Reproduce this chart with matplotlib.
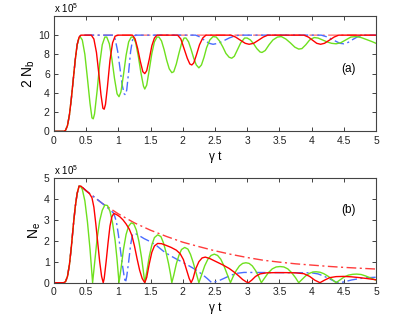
import matplotlib
matplotlib.use("Agg")
import matplotlib.pyplot as plt

plt.rcParams['font.family'] = ['Liberation Sans', 'DejaVu Sans']

# ---------------- panel (a): 2 N_b (units of 1e5) ----------------
rise_t = [0, 0.15, 0.18, 0.21, 0.24, 0.27, 0.30, 0.33, 0.36, 0.39]
rise_a = [0, 0, 0.1, 0.6, 1.7, 3.4, 5.4, 7.4, 9.0, 9.8]

a_red_t = rise_t + [0.42, 0.58, 0.62, 0.66, 0.70, 0.73, 0.76, 0.78, 0.80, 0.83, 0.87, 0.91, 0.95, 1.0,
                    1.22, 1.26, 1.30, 1.34, 1.38, 1.41, 1.44, 1.48, 1.52, 1.56, 1.60,
                    1.92, 1.97, 2.02, 2.07, 2.11, 2.14, 2.17, 2.21, 2.26, 2.31, 2.36,
                    2.75, 2.82, 2.90, 2.97, 3.03, 3.10, 3.17, 3.25, 3.32,
                    3.88, 3.95, 4.02, 4.08, 4.14, 4.20, 4.27, 4.35, 4.42, 5.0]
a_red_y = rise_a + [10, 10, 9.6, 8.2, 5.8, 3.8, 2.4, 2.3, 2.8, 4.6, 7.4, 9.2, 9.9, 10,
                    10, 9.6, 8.6, 7.3, 6.2, 6.0, 6.3, 7.5, 8.9, 9.7, 10,
                    10, 9.6, 8.6, 7.6, 7.0, 6.9, 7.1, 7.9, 9.0, 9.7, 10,
                    10, 9.8, 9.45, 9.15, 9.05, 9.15, 9.45, 9.8, 10,
                    10, 9.8, 9.45, 9.15, 9.05, 9.15, 9.45, 9.8, 10, 10]

a_green_t = rise_t[:-1] + [0.39, 0.41, 0.44, 0.48, 0.52, 0.56, 0.59, 0.61, 0.63, 0.67, 0.71, 0.75, 0.79,
                           0.82, 0.86, 0.90, 0.94, 0.98, 1.01, 1.04, 1.08, 1.12, 1.16, 1.20,
                           1.23, 1.27, 1.31, 1.35, 1.39, 1.41, 1.44, 1.48, 1.52, 1.56, 1.60,
                           1.63, 1.67, 1.71, 1.75, 1.79, 1.83, 1.86, 1.90, 1.94, 1.98, 2.02,
                           2.05, 2.09, 2.13, 2.17, 2.21, 2.25, 2.29, 2.33, 2.37, 2.42, 2.47,
                           2.52, 2.57, 2.62, 2.67, 2.72, 2.76, 2.80, 2.85, 2.90, 2.96,
                           3.00, 3.05, 3.10, 3.15, 3.20, 3.23, 3.28, 3.34, 3.40, 3.47,
                           3.53, 3.60, 3.67, 3.74, 3.80, 3.85, 3.91, 3.97, 4.04,
                           4.10, 4.17, 4.24, 4.31, 4.38, 4.45, 4.53, 4.61, 4.69,
                           4.77, 4.85, 4.93, 5.0]
a_green_y = rise_a[:-1] + [9.7, 9.8, 9.5, 8.0, 5.5, 2.9, 1.4, 1.3, 1.8, 4.2, 7.0, 9.0, 9.8,
                           9.8, 9.1, 7.5, 5.5, 3.9, 3.6, 4.1, 5.9, 7.9, 9.3, 9.8,
                           9.8, 9.2, 7.8, 6.1, 4.7, 4.4, 4.8, 6.4, 8.1, 9.3, 9.8,
                           9.8, 9.4, 8.5, 7.4, 6.5, 6.1, 6.2, 7.0, 8.1, 9.1, 9.7,
                           9.7, 9.3, 8.5, 7.6, 6.9, 6.6, 6.9, 7.7, 8.7, 9.5, 9.85,
                           9.8, 9.4, 8.8, 8.1, 7.7, 7.6, 7.8, 8.5, 9.2, 9.7,
                           9.7, 9.5, 9.1, 8.6, 8.25, 8.2, 8.4, 9.0, 9.5, 9.8,
                           9.85, 9.6, 9.2, 8.75, 8.55, 8.6, 9.0, 9.5, 9.75,
                           9.7, 9.5, 9.3, 9.15, 9.1, 9.2, 9.5, 9.8, 9.85,
                           9.75, 9.55, 9.35, 9.15]

a_blue_t = rise_t + [0.42, 0.92, 0.95, 0.99, 1.03, 1.06, 1.09, 1.11, 1.13, 1.16, 1.19, 1.22, 1.26,
                     2.20, 2.27, 2.34, 2.41, 2.47, 2.55, 2.63, 2.72, 2.82, 2.90,
                     4.15, 4.25, 4.35, 4.44, 4.50, 4.57, 4.64, 4.72, 4.80, 5.0]
a_blue_y = rise_a + [10, 10, 9.6, 8.3, 6.3, 4.8, 3.9, 3.8, 4.3, 6.2, 8.3, 9.5, 10,
                     10, 9.8, 9.45, 9.15, 9.05, 9.15, 9.4, 9.7, 9.95, 10,
                     10, 9.8, 9.45, 9.15, 9.1, 9.25, 9.55, 9.85, 10, 10]

a_rdash_t = rise_t + [0.42, 5.0]
a_rdash_y = rise_a + [10, 10]

# ---------------- panel (b): N_e (units of 1e5) ----------------
rise_b = [0, 0, 0.05, 0.3, 0.85, 1.7, 2.7, 3.6, 4.25, 4.6]

b_env_t = rise_t + [0.42, 0.5, 0.75, 1.0, 1.25, 1.5, 1.75, 2.0, 2.25, 2.5, 2.75, 3.0,
                    3.25, 3.5, 3.75, 4.0, 4.25, 4.5, 4.75, 5.0]
b_env_y = rise_b + [4.6, 4.38, 3.78, 3.28, 2.85, 2.5, 2.2, 1.93, 1.72, 1.52, 1.35, 1.2,
                    1.07, 0.98, 0.9, 0.84, 0.78, 0.73, 0.69, 0.65]

b_red_t = rise_t + [0.42, 0.5, 0.55, 0.59, 0.62, 0.65, 0.68, 0.71, 0.74, 0.765, 0.78, 0.81, 0.84,
                    0.87, 0.90, 0.93, 0.97, 1.02, 1.07, 1.12, 1.17, 1.21, 1.25, 1.29, 1.33,
                    1.37, 1.41, 1.44, 1.48, 1.52, 1.56, 1.61, 1.67, 1.74, 1.82, 1.90, 1.96,
                    2.01, 2.06, 2.10, 2.13, 2.16, 2.20, 2.25, 2.30, 2.35, 2.42, 2.52, 2.62,
                    2.72, 2.80, 2.87, 2.93, 2.99, 3.02, 3.07, 3.13, 3.2, 3.3, 3.45, 3.6,
                    3.75, 3.88, 3.97, 4.05, 4.13, 4.2, 4.28, 4.38, 4.5, 4.62, 4.75, 4.88, 5.0]
b_red_y = rise_b + [4.6, 4.38, 4.25, 4.05, 3.6, 2.8, 1.9, 1.0, 0.3, 0, 0.2, 1.0, 1.9,
                    2.7, 3.15, 3.3, 3.25, 3.15, 3.0, 2.8, 2.55, 2.25, 1.75, 1.15, 0.6,
                    0.2, 0, 0.25, 0.9, 1.45, 1.75, 1.87, 1.86, 1.78, 1.68, 1.55, 1.38,
                    1.1, 0.6, 0.2, 0, 0.2, 0.65, 1.0, 1.18, 1.22, 1.15, 1.0, 0.85,
                    0.68, 0.5, 0.32, 0.15, 0.03, 0, 0.12, 0.3, 0.42, 0.47, 0.48, 0.48,
                    0.47, 0.43, 0.3, 0.12, 0, 0.12, 0.24, 0.29, 0.3, 0.28, 0.24, 0.19, 0.14]

b_green_t = rise_t + [0.41, 0.44, 0.48, 0.52, 0.56, 0.60,
                      0.63, 0.67, 0.71, 0.75, 0.79, 0.83, 0.87, 0.91, 0.95, 0.98, 1.01,
                      1.04, 1.08, 1.12, 1.16, 1.20, 1.24, 1.28, 1.32, 1.36, 1.39, 1.41,
                      1.44, 1.48, 1.52, 1.56, 1.61, 1.66, 1.70, 1.74, 1.78, 1.81, 1.83,
                      1.86, 1.90, 1.94, 1.98, 2.03, 2.08, 2.12, 2.16, 2.20, 2.23, 2.25,
                      2.29, 2.34, 2.39, 2.44, 2.49, 2.54, 2.59, 2.64, 2.69, 2.74,
                      2.78, 2.83, 2.88, 2.93, 2.98, 3.03, 3.08, 3.13, 3.18, 3.22,
                      3.27, 3.33, 3.39, 3.45, 3.51, 3.57, 3.63, 3.69, 3.75, 3.80,
                      3.85, 3.91, 3.97, 4.02, 4.07, 4.13, 4.19, 4.26, 4.32, 4.38,
                      4.44, 4.50, 4.57, 4.64, 4.70, 4.77, 4.84, 4.92, 5.0]
b_green_y = rise_b + [4.6, 4.45, 3.9, 2.9, 1.6, 0,
                      0.9, 2.1, 2.95, 3.45, 3.7, 3.68, 3.4, 2.85, 2.0, 1.1, 0,
                      0.65, 1.6, 2.3, 2.7, 2.85, 2.8, 2.5, 1.95, 1.2, 0.5, 0,
                      0.5, 1.25, 1.8, 2.15, 2.28, 2.2, 1.9, 1.45, 0.9, 0.4, 0,
                      0.35, 0.9, 1.3, 1.58, 1.68, 1.6, 1.35, 0.98, 0.55, 0.22, 0,
                      0.35, 0.8, 1.12, 1.3, 1.36, 1.3, 1.12, 0.8, 0.4, 0,
                      0.28, 0.58, 0.8, 0.92, 0.95, 0.92, 0.8, 0.58, 0.28, 0,
                      0.22, 0.48, 0.66, 0.75, 0.77, 0.75, 0.66, 0.48, 0.24, 0,
                      0.15, 0.33, 0.45, 0.51, 0.52, 0.5, 0.43, 0.3, 0.15, 0,
                      0.13, 0.26, 0.36, 0.40, 0.41, 0.39, 0.32, 0.22, 0.12]

b_blue_t = rise_t + [0.42, 0.5, 0.75, 0.88, 0.93, 0.97, 1.00, 1.03, 1.06, 1.09, 1.11, 1.13,
                     1.16, 1.19, 1.22, 1.26, 1.32, 1.40, 1.50, 1.60, 1.70, 1.80, 1.90, 2.0,
                     2.1, 2.2, 2.3, 2.38, 2.45, 2.55, 2.65, 2.75, 2.85, 2.95, 3.5, 4.0,
                     4.1, 4.2, 4.3, 4.38, 4.44, 4.52, 4.62, 4.75, 4.88, 5.0]
b_blue_y = rise_b + [4.6, 4.38, 3.78, 3.45, 3.3, 2.9, 2.3, 1.6, 0.9, 0.3, 0, 0.3,
                     1.0, 1.8, 2.3, 2.35, 2.25, 2.1, 1.95, 1.75, 1.5, 1.3, 1.13, 0.97,
                     0.8, 0.62, 0.4, 0.2, 0, 0.08, 0.22, 0.36, 0.45, 0.49, 0.48, 0.47,
                     0.42, 0.3, 0.15, 0.03, 0, 0.05, 0.13, 0.2, 0.24, 0.26]

xticks = [0, 0.5, 1, 1.5, 2, 2.5, 3, 3.5, 4, 4.5, 5]
xticklabels = ['0', '0.5', '1', '1.5', '2', '2.5', '3', '3.5', '4', '4.5', '5']

RED = '#ff0000'
GREEN = '#6ee01e'
BLUE = '#4a6cff'
PINK = '#ff3b3b'

fig = plt.figure(figsize=(4.15, 3.18), dpi=100)
axa = fig.add_axes([0.130, 0.587, 0.776, 0.363])
axb = fig.add_axes([0.130, 0.111, 0.776, 0.330])

lw = 1.0
dashdot = (0, (7, 2.5, 1.5, 2.5))
axa.plot(a_rdash_t, a_rdash_y, color=PINK, lw=lw, ls=dashdot, alpha=0.7)
axa.plot(a_blue_t, a_blue_y, color=BLUE, lw=lw, ls=dashdot)
axa.plot(a_green_t, a_green_y, color=GREEN, lw=lw)
axa.plot(a_red_t, a_red_y, color=RED, lw=lw)

axb.plot(b_env_t, b_env_y, color=PINK, lw=lw, ls=dashdot)
axb.plot(b_blue_t, b_blue_y, color=BLUE, lw=lw, ls=dashdot)
axb.plot(b_green_t, b_green_y, color=GREEN, lw=lw)
axb.plot(b_red_t, b_red_y, color=RED, lw=lw)

for ax, ylim, yt, ylab, tag, tagy, tx in [
        (axa, (0, 12), [0, 2, 4, 6, 8, 10], '2 N$_\\mathregular{b}$', '(a)', 6.45, 4.57),
        (axb, (0, 5), [0, 1, 2, 3, 4, 5], 'N$_\\mathregular{e}$', '(b)', 3.45, 4.57)]:
    ax.set_xlim(0, 5)
    ax.set_ylim(*ylim)
    ax.set_xticks(xticks)
    ax.set_xticklabels(xticklabels)
    ax.set_yticks(yt)
    ax.tick_params(direction='in', top=True, right=True, labelsize=7.5, length=3,
                   width=0.6, colors='#222222', pad=3)
    for s in ax.spines.values():
        s.set_linewidth(0.8)
        s.set_color('#444444')
    ax.set_xlabel('\u03b3 t', fontsize=8.5, labelpad=4)
    ax.set_ylabel(ylab, fontsize=10, labelpad=1)
    ax.text(tx, tagy, tag, fontsize=8.5, ha='center', va='center')
    ax.text(0.0, 1.01, 'x 10$^\\mathregular{5}$', transform=ax.transAxes, fontsize=7,
            ha='left', va='bottom')

fig.savefig('out.png', dpi=100)
